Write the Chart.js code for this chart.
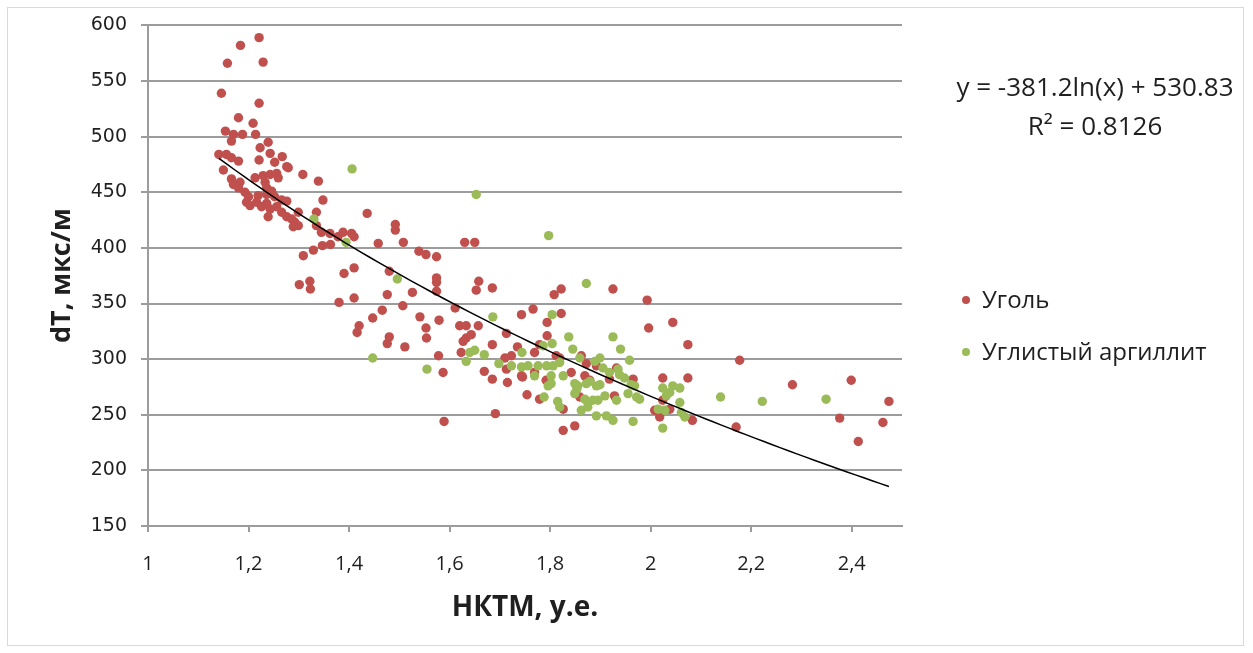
<!DOCTYPE html>
<html>
<head>
<meta charset="utf-8">
<script src="https://cdn.jsdelivr.net/npm/chart.js@4.4.1/dist/chart.umd.min.js"></script>
<style>
  html, body { margin: 0; padding: 0; background: #fff; }
  #wrap { position: relative; width: 1253px; height: 653px; }
</style>
</head>
<body>
<div id="wrap"><canvas id="chart"></canvas></div>
<script>
// Уголь: НКТМ (x) и dT (y)
const coalX = [
  1.221, 1.184, 1.158, 1.229, 1.146, 1.221, 1.180, 1.209, 1.154, 1.170, 1.188, 1.214, 1.166, 1.239, 1.223,
  1.243, 1.141, 1.156, 1.166, 1.180, 1.221, 1.267, 1.252, 1.276, 1.279, 1.308, 1.339, 1.150, 1.213, 1.229,
  1.243, 1.256, 1.259, 1.166, 1.183, 1.170, 1.180, 1.193, 1.200, 1.196, 1.233, 1.236, 1.246, 1.236, 1.219,
  1.252, 1.266, 1.276, 1.216, 1.226, 1.236, 1.243, 1.256, 1.203, 1.348, 1.266, 1.276, 1.286, 1.292, 1.299,
  1.289, 1.239, 1.299, 1.335, 1.335, 1.345, 1.362, 1.388, 1.405, 1.378, 1.329, 1.309, 1.347, 1.363, 1.301,
  1.322, 1.323, 1.380, 1.436, 1.492, 1.492, 1.410, 1.458, 1.508, 1.630, 1.650, 1.539, 1.553, 1.574, 1.390,
  1.410, 1.480, 1.574, 1.574, 1.574, 1.658, 1.653, 1.685, 1.526, 1.476, 1.410, 1.507, 1.611, 1.466, 1.447,
  1.541, 1.579, 1.743, 1.420, 1.416, 1.553, 1.620, 1.633, 1.657, 1.713, 1.480, 1.476, 1.554, 1.633, 1.643,
  1.627, 1.511, 1.685, 1.735, 1.578, 1.587, 1.623, 1.710, 1.723, 1.713, 1.669, 1.685, 1.715, 1.745, 1.754,
  1.691, 1.589, 1.808, 1.822, 1.925, 1.993, 1.766, 1.822, 1.794, 1.996, 2.044, 1.794, 2.074, 1.779, 1.769,
  1.812, 1.819, 1.862, 1.872, 1.892, 1.743, 1.769, 1.792, 1.842, 1.869, 1.879, 1.918, 1.932, 1.965, 2.024,
  2.074, 1.779, 1.859, 1.928, 2.024, 2.008, 2.018, 2.038, 2.083, 1.826, 1.826, 1.849, 2.177, 2.282, 2.399,
  2.474, 2.376, 2.462, 2.413, 2.170
];
const coalY = [
  589, 582, 566, 567, 539, 530, 517, 512, 505, 502, 502, 502, 496, 495, 490,
  485, 484, 484, 481, 478, 479, 482, 477, 473, 472, 466, 460, 470, 463, 465,
  466, 467, 463, 462, 459, 457, 454, 450, 446, 441, 459, 454, 451, 448, 447,
  446, 443, 442, 441, 437, 440, 435, 437, 438, 443, 432, 428, 426, 423, 420,
  419, 428, 432, 432, 420, 414, 413, 414, 413, 410, 398, 393, 402, 403, 367,
  370, 363, 351, 431, 421, 416, 410, 404, 405, 405, 405, 397, 394, 392, 377,
  382, 379, 373, 369, 361, 370, 362, 364, 360, 358, 355, 348, 346, 344, 337,
  338, 335, 340, 330, 324, 328, 330, 330, 330, 323, 320, 314, 319, 319, 322,
  316, 311, 313, 311, 303, 288, 306, 301, 303, 291, 289, 282, 279, 284, 268,
  251, 244, 358, 363, 363, 353, 345, 341, 333, 328, 333, 321, 313, 313, 306,
  303, 301, 303, 296, 294, 285, 288, 281, 288, 285, 281, 282, 292, 282, 283,
  283, 264, 266, 267, 263, 254, 248, 255, 245, 255, 236, 240, 299, 277, 281,
  262, 247, 243, 226, 239
];

// Углистый аргиллит
const argX = [
  1.406, 1.653, 1.797, 1.872, 1.330, 1.394, 1.496, 1.686, 1.447, 1.555, 1.640, 1.650, 1.633, 1.669, 1.744,
  1.698, 1.723, 1.743, 1.756, 1.804, 1.837, 1.925, 1.804, 1.845, 1.940, 1.786, 1.776, 1.793, 1.806, 1.819,
  1.859, 1.889, 1.899, 1.958, 1.905, 1.918, 1.935, 1.938, 1.948, 1.769, 1.802, 1.826, 1.802, 1.796, 1.849,
  1.855, 1.872, 1.892, 1.899, 1.879, 1.961, 1.968, 2.024, 2.044, 2.058, 2.038, 2.031, 1.788, 1.849, 1.853,
  1.869, 1.875, 1.885, 1.895, 1.909, 1.932, 1.955, 1.972, 1.978, 2.015, 2.028, 2.058, 2.061, 2.068, 2.024,
  1.819, 1.815, 1.862, 1.875, 1.892, 1.912, 1.925, 1.965, 2.139, 2.222, 2.349
];
const argY = [
  471, 448, 411, 368, 426, 405, 372, 338, 301, 291, 306, 308, 298, 304, 306,
  296, 294, 293, 294, 340, 320, 320, 314, 309, 309, 312, 294, 294, 294, 297,
  301, 298, 301, 299, 292, 288, 291, 286, 283, 285, 285, 285, 278, 276, 278,
  276, 278, 276, 277, 280, 277, 276, 274, 276, 274, 270, 267, 266, 269, 273,
  264, 261, 263, 263, 267, 263, 269, 266, 264, 255, 254, 261, 252, 248, 238,
  257, 262, 254, 257, 249, 249, 245, 244, 266, 262, 264
];

// логарифмический тренд по всем образцам: y = a*ln(x) + b
const trendA = -381.2;
const trendB = 530.83;
const trendR2 = 0.8126;

const xTicks = [1, 1.2, 1.4, 1.6, 1.8, 2, 2.2, 2.4];
const yTicks = [150, 200, 250, 300, 350, 400, 450, 500, 550, 600];

const seriesNames = ['Уголь', 'Углистый аргиллит'];
const seriesColors = ['#c0504d', '#9bbb59'];

const toPoints = (xs, ys) => xs.map((x, i) => ({ x: x, y: ys[i] }));

// trend curve across the range of the samples
const allX = coalX.concat(argX);
const xMin = Math.min(...allX), xMax = Math.max(...allX);
const trendPts = [];
for (let i = 0; i <= 80; i++) {
  const x = xMin + (xMax - xMin) * i / 80;
  trendPts.push({ x: x, y: trendA * Math.log(x) + trendB });
}

const fmtComma = v => String(+v.toFixed(1)).replace('.', ',');
const gridColor = '#9c9c9c';
const textColor = '#1f1f1f';

// frame, trend equation and legend on the right
const sidePanel = {
  id: 'sidePanel',
  beforeDraw(chart) {
    const ctx = chart.ctx;
    ctx.save();
    ctx.strokeStyle = '#d9d9d9';
    ctx.lineWidth = 1;
    ctx.strokeRect(7.5, 7.5, 1236, 638);
    ctx.restore();
  },
  afterDraw(chart) {
    const ctx = chart.ctx;
    ctx.save();
    ctx.fillStyle = textColor;
    ctx.textBaseline = 'middle';
    ctx.textAlign = 'center';
    ctx.font = '26px "Open Sans"';
    ctx.fillText('y = ' + trendA + 'ln(x) + ' + trendB, 1095, 89);
    ctx.fillText('R² = ' + trendR2, 1095, 128);

    ctx.textAlign = 'left';
    ctx.font = '24px "Open Sans"';
    seriesNames.forEach((name, i) => {
      const y = 300 + i * 52;
      ctx.fillStyle = seriesColors[i];
      ctx.beginPath();
      ctx.arc(966, y, 4, 0, Math.PI * 2);
      ctx.fill();
      ctx.fillStyle = textColor;
      ctx.fillText(name, 982, y + 1);
    });
    ctx.restore();
  }
};

new Chart(document.getElementById('chart'), {
  type: 'scatter',
  data: {
    datasets: [
      {
        type: 'line',
        label: 'trend',
        data: trendPts,
        borderColor: '#000',
        borderWidth: 1.5,
        pointRadius: 0,
        fill: false,
        tension: 0,
        order: 0
      },
      {
        label: seriesNames[1],
        data: toPoints(argX, argY),
        backgroundColor: seriesColors[1],
        borderColor: seriesColors[1],
        borderWidth: 0,
        pointRadius: 4.7,
        order: 1
      },
      {
        label: seriesNames[0],
        data: toPoints(coalX, coalY),
        backgroundColor: seriesColors[0],
        borderColor: seriesColors[0],
        borderWidth: 0,
        pointRadius: 4.7,
        order: 2
      }
    ]
  },
  options: {
    responsive: true,
    maintainAspectRatio: false,
    animation: false,
    layout: { padding: { left: 0, top: 22, right: 351, bottom: 0 } },
    plugins: {
      legend: { display: false },
      tooltip: { enabled: false }
    },
    scales: {
      x: {
        type: 'linear',
        min: 1,
        max: 2.5,
        afterBuildTicks: s => { s.ticks = xTicks.map(v => ({ value: v })); },
        afterFit: s => { s.height = 127; },
        grid: { drawOnChartArea: false, drawTicks: true, tickLength: 6, color: gridColor, lineWidth: 2 },
        border: { color: gridColor, width: 2 },
        ticks: {
          padding: 20,
          color: textColor,
          font: { family: '"Open Sans"', size: 20 },
          callback: v => fmtComma(v)
        },
        title: {
          display: true,
          text: 'НКТМ, у.е.',
          color: textColor,
          font: { family: '"Open Sans"', size: 28, weight: 'bold' },
          padding: { top: 0, bottom: 28 }
        }
      },
      y: {
        min: 150,
        max: 600,
        afterBuildTicks: s => { s.ticks = yTicks.map(v => ({ value: v })); },
        afterFit: s => { s.width = 148; },
        grid: { drawOnChartArea: true, drawTicks: true, tickLength: 7, color: gridColor, lineWidth: 2 },
        border: { color: gridColor, width: 2 },
        ticks: {
          padding: 14,
          color: textColor,
          font: { family: '"DejaVu Sans"', size: 19 }
        },
        title: {
          display: true,
          text: 'dT, мкс/м',
          color: textColor,
          font: { family: '"Open Sans"', size: 27, weight: 'bold' },
          padding: { top: 46, bottom: 0 }
        }
      }
    }
  },
  plugins: [sidePanel]
});
</script>
</body>
</html>
